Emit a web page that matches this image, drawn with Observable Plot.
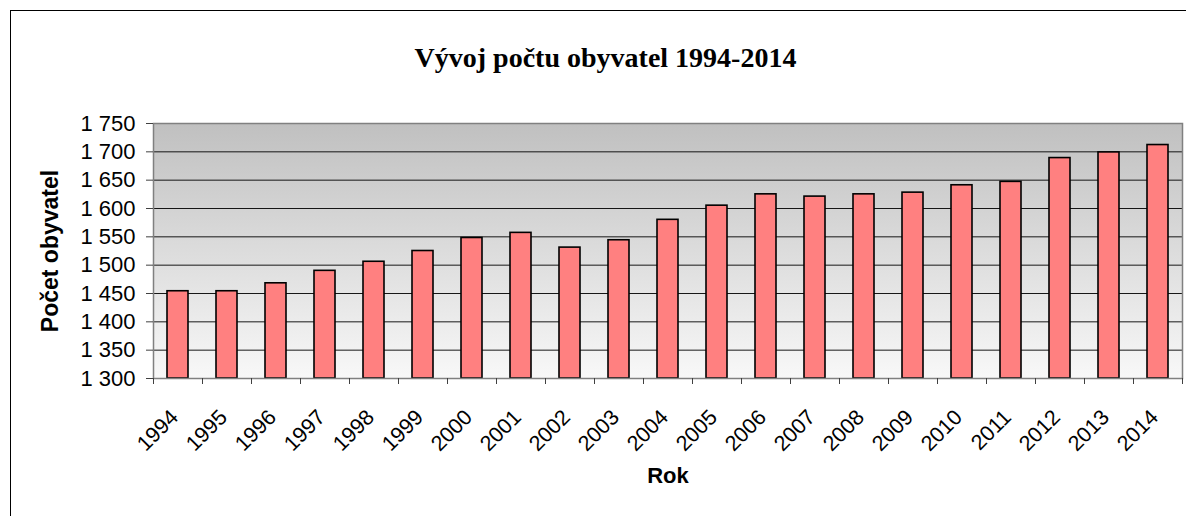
<!DOCTYPE html>
<html>
<head>
<meta charset="utf-8">
<script src="https://cdn.jsdelivr.net/npm/d3@7"></script>
<script src="https://cdn.jsdelivr.net/npm/@observablehq/plot@0.6"></script>
<style>
  html, body { margin: 0; padding: 0; background: white; overflow: hidden; }
  #chart { position: relative; width: 1186px; height: 516px; }
</style>
</head>
<body>
<div id="chart"></div>
<script>
const years = ["1994","1995","1996","1997","1998","1999","2000","2001","2002","2003","2004","2005","2006","2007","2008","2009","2010","2011","2012","2013","2014"];
const population = [1454, 1454, 1468, 1490, 1506, 1525, 1548, 1557, 1531, 1544, 1580, 1605, 1625, 1621, 1625, 1628, 1641, 1647, 1689, 1699, 1712];
const yTicks = [1300, 1350, 1400, 1450, 1500, 1550, 1600, 1650, 1700, 1750];
const yDomain = [1300, 1750];
const title = "Vývoj počtu obyvatel 1994-2014";
const yLabel = "Počet obyvatel";
const xLabel = "Rok";

const data = years.map((y, i) => ({year: y, value: population[i]}));

const W = 1186, H = 516;
const mL = 153, mR = 4, mT = 123, mB = 138;
const step = (W - mL - mR) / years.length;
const fmt = d => d3.format(",")(d).replace(",", " ");

const chart = Plot.plot({
  width: W,
  height: H,
  marginLeft: mL,
  marginRight: mR,
  marginTop: mT,
  marginBottom: mB,
  style: {fontFamily: "'Liberation Sans', Arial, sans-serif", fontSize: "22px", color: "black", background: "white"},
  x: {type: "band", domain: years, paddingInner: 0.58, paddingOuter: 0.29, align: 0.5},
  y: {domain: yDomain, nice: false},
  marks: [
    Plot.frame({fill: "url(#bgGrad)", stroke: null}),
    Plot.gridY(yTicks.slice(1, -1), {stroke: "black", strokeOpacity: 0.9, strokeWidth: 1}),
    Plot.barY(data, {x: "year", y1: yDomain[0], y2: "value", fill: "#ff8080", stroke: "black", strokeWidth: 1.6}),
    Plot.frame({stroke: "#808080", strokeWidth: 1.5}),
    Plot.axisY({ticks: yTicks, tickSize: 7, tickPadding: 11, tickFormat: fmt, label: null, stroke: "#404040", fontSize: 22}),
    Plot.axisX({ticks: years, tickSize: 6, text: null, label: null, dx: -step / 2, stroke: "#404040"}),
    Plot.axisX({ticks: years.slice(-1), tickSize: 6, text: null, label: null, dx: step / 2, stroke: "#404040"}),
    Plot.text(years, {x: d => d, frameAnchor: "bottom", rotate: -45, textAnchor: "end", lineAnchor: "bottom", dx: 1.5, dy: 40, fontSize: 21.5, fill: "black"}),
    Plot.text([yLabel], {frameAnchor: "left", rotate: -90, textAnchor: "middle", dx: -103, fontSize: 23, fontWeight: "bold", fill: "black"}),
    Plot.text([xLabel], {frameAnchor: "bottom", textAnchor: "middle", dy: 104, fontSize: 22, fontWeight: "bold", fill: "black"}),
    Plot.text([title], {frameAnchor: "top", textAnchor: "middle", dx: -62.5, dy: -76, fontSize: 28, fontWeight: "bold", fontFamily: "'Liberation Serif', 'Times New Roman', serif", fill: "black"})
  ]
});

const svg = d3.select(chart);
const defs = svg.insert("defs", ":first-child");
const grad = defs.append("linearGradient").attr("id", "bgGrad").attr("x1", 0).attr("y1", 0).attr("x2", 0).attr("y2", 1);
grad.append("stop").attr("offset", "0%").attr("stop-color", "#c0c0c0");
grad.append("stop").attr("offset", "100%").attr("stop-color", "#f8f8f8");
svg.append("rect").attr("x", 10.5).attr("y", 10.5).attr("width", 1300).attr("height", 700)
  .attr("fill", "none").attr("stroke", "black").attr("stroke-width", 1);

document.getElementById("chart").appendChild(chart);
</script>
</body>
</html>
